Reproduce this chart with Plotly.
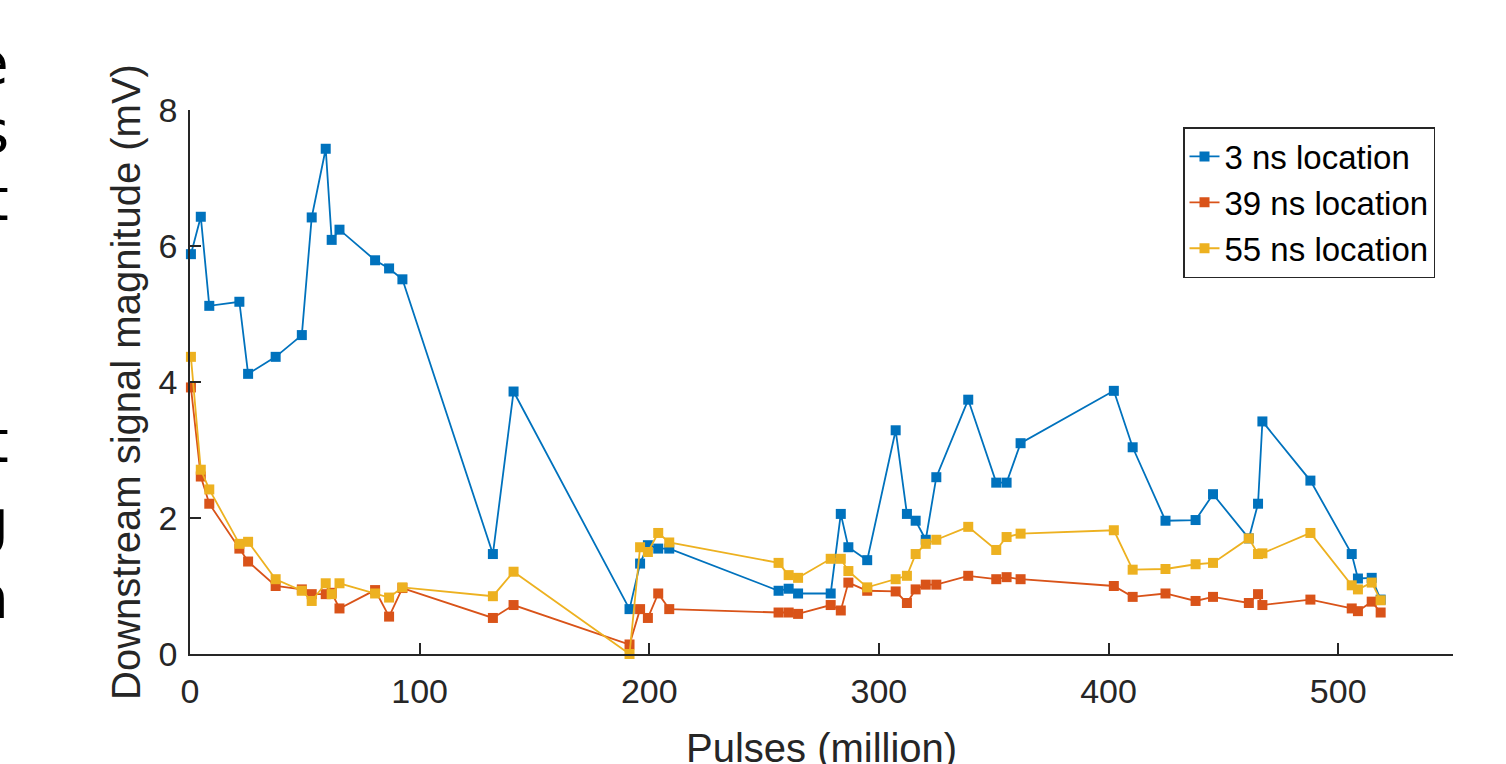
import plotly.graph_objects as go

# Pulses (million) – shared sample positions
pulses = [0.4, 4.7, 8.4, 21.5, 25.3, 37.3, 48.7, 53.0, 59.1, 61.7, 65.1, 80.6, 86.7, 92.5,
          131.9, 140.9, 191.4, 196.0, 199.4, 203.9, 208.7, 256.3, 260.7, 264.8, 279.0,
          283.4, 286.7, 294.9, 307.3, 312.2, 316.0, 320.4, 325.0, 338.9, 351.1, 355.6,
          361.7, 402.3, 410.5, 424.8, 437.9, 445.5, 461.1, 465.1, 467.0, 487.9, 505.9,
          508.6, 514.6, 518.5]

loc_3ns = [5.88, 6.43, 5.12, 5.18, 4.12, 4.37, 4.69, 6.42, 7.43, 6.09, 6.24, 5.79, 5.67, 5.51,
           1.47, 3.86, 0.66, 1.33, 1.60, 1.55, 1.55, 0.93, 0.96, 0.89, 0.89,
           2.06, 1.57, 1.38, 3.29, 2.06, 1.96, 1.68, 2.60, 3.74, 2.52, 2.52,
           3.10, 3.87, 3.04, 1.96, 1.97, 2.35, 1.70, 2.21, 3.42, 2.55, 1.47,
           1.11, 1.12, 0.80]

loc_39ns = [3.92, 2.61, 2.21, 1.55, 1.36, 1.00, 0.95, 0.88, 0.88, 0.90, 0.67, 0.94, 0.55, 0.97,
            0.53, 0.72, 0.14, 0.66, 0.53, 0.89, 0.66, 0.61, 0.61, 0.59, 0.72,
            0.64, 1.05, 0.93, 0.92, 0.75, 0.95, 1.02, 1.02, 1.15, 1.10, 1.13,
            1.10, 1.00, 0.84, 0.89, 0.78, 0.84, 0.75, 0.88, 0.72, 0.80, 0.67,
            0.63, 0.77, 0.61]

loc_55ns = [4.37, 2.71, 2.42, 1.62, 1.65, 1.10, 0.93, 0.78, 1.04, 0.88, 1.04, 0.89, 0.83, 0.98,
            0.85, 1.21, 0.00, 1.57, 1.50, 1.78, 1.64, 1.34, 1.16, 1.12, 1.40,
            1.40, 1.22, 0.98, 1.10, 1.15, 1.47, 1.62, 1.68, 1.87, 1.53, 1.72,
            1.77, 1.82, 1.24, 1.25, 1.32, 1.34, 1.70, 1.47, 1.48, 1.78, 1.01,
            0.95, 1.05, 0.79]

series_names = ["3 ns location", "39 ns location", "55 ns location"]
series_colors = ["#0072BD", "#D95319", "#EDB120"]
x_ticks = [0, 100, 200, 300, 400, 500]
y_ticks = [0, 2, 4, 6, 8]
x_title = "Pulses (million)"
y_title = "Downstream signal magnitude (mV)"

# cropped letter fragments from neighbouring text column (left edge)
fragments = ["e", "s", "t", "t", "g", "n"]
fragment_y = [64, 132, 200, 442, 522, 598]

FONT = "Liberation Sans, Arial, sans-serif"
AX = "#262626"

fig = go.Figure()
for name, vals, col in zip(series_names, [loc_3ns, loc_39ns, loc_55ns], series_colors):
    fig.add_trace(go.Scatter(
        x=pulses, y=vals, name=name, mode="lines+markers",
        line=dict(color=col, width=1.8),
        marker=dict(symbol="square", size=10, color=col, line=dict(width=0)),
        cliponaxis=False,
    ))

W, H = 1506, 764
L, R, T, B = 190, 53, 110, 110
pw = W - L - R
ph = H - T - B

for txt, py in zip(fragments, fragment_y):
    fig.add_annotation(
        xref="paper", yref="paper",
        x=(11 - L) / pw, y=(H - B - py) / ph,
        xanchor="right", yanchor="middle",
        text=txt, showarrow=False,
        font=dict(family="DejaVu Sans, sans-serif", size=58, color="#000000"),
    )

# x-axis title placed as annotation (sits partly below the page edge as in the reference)
fig.add_annotation(
    xref="paper", yref="paper", x=0.5, y=(H - B - 724) / ph,
    xanchor="center", yanchor="top", text=x_title, showarrow=False,
    font=dict(family=FONT, size=40, color=AX),
)

fig.update_layout(
    width=W, height=H,
    margin=dict(l=L, r=R, t=T, b=B, autoexpand=False),
    paper_bgcolor="white", plot_bgcolor="white",
    font=dict(family=FONT, color=AX, size=34),
    showlegend=True,
    legend=dict(
        x=(1435 - L) / pw, y=(H - B - 127) / ph,
        xanchor="right", yanchor="top",
        bgcolor="white", bordercolor=AX, borderwidth=1.5,
        font=dict(family=FONT, size=33, color="#000000"),
        itemwidth=30, tracegroupgap=0,
    ),
)

fig.update_xaxes(
    range=[0, 550], tickvals=x_ticks, ticktext=[str(v) for v in x_ticks],
    showgrid=False, zeroline=False, showline=True, linecolor=AX, linewidth=1.5,
    ticks="inside", ticklen=11, tickwidth=1.5, tickcolor=AX,
    tickfont=dict(family=FONT, size=34, color=AX), ticklabelstandoff=6,
)
fig.update_yaxes(
    range=[0, 8], tickvals=y_ticks, ticktext=[str(v) for v in y_ticks],
    showgrid=False, zeroline=False, showline=True, linecolor=AX, linewidth=1.5,
    ticks="inside", ticklen=11, tickwidth=1.5, tickcolor=AX,
    tickfont=dict(family=FONT, size=34, color=AX), ticklabelstandoff=4,
    title=dict(text=y_title, font=dict(family=FONT, size=40, color=AX), standoff=6),
)

fig.write_html(
    "out.html",
    config={"displayModeBar": False},
    post_script="document.body.style.margin='0';document.body.style.overflow='hidden';",
)
